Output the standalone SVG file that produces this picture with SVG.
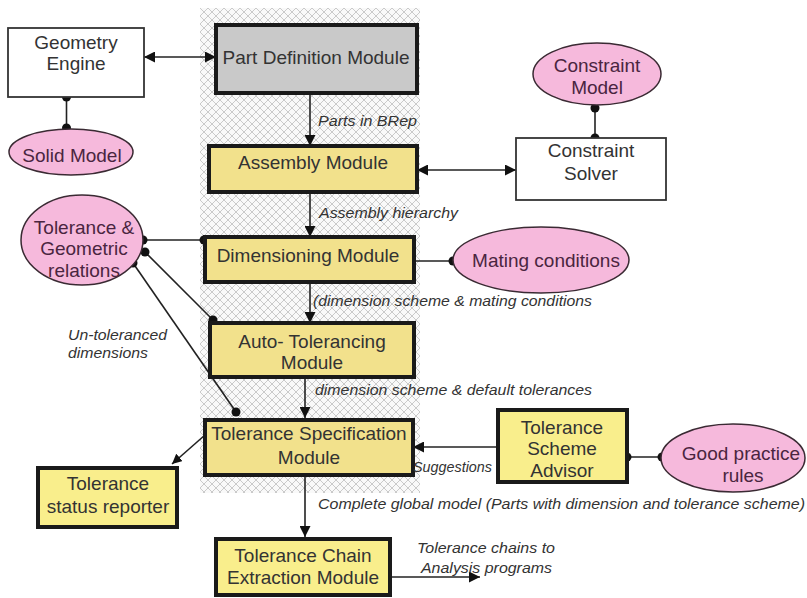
<svg xmlns="http://www.w3.org/2000/svg" width="807" height="598" viewBox="0 0 807 598">
<style>
  .box{stroke:#1a1a1a;stroke-width:4}
  .mod{fill:#f2e18c}
  .ext{fill:#f9ee8c}
  .plain{fill:#fff;stroke:#333;stroke-width:1.8}
  .ell{fill:#f6b9dc;stroke:#3a2a33;stroke-width:1.5}
  .t{font-family:"Liberation Sans",Arial,sans-serif;font-size:19px;fill:#333;text-anchor:middle}
  .te{font-family:"Liberation Sans",Arial,sans-serif;font-size:19px;fill:#4a2540;text-anchor:middle}
  .lbl{font-family:"Liberation Sans",Arial,sans-serif;font-size:14px;font-style:italic;fill:#333}
  .ln{stroke:#222;stroke-width:1.6;fill:none}
  .dot{fill:#111}
</style>
<defs>
  <pattern id="hatch" width="8" height="8" patternUnits="userSpaceOnUse">
    <rect width="8" height="8" fill="#f9f9f9"/>
    <path d="M0,0 L8,8 M8,0 L0,8" stroke="#cacaca" stroke-width="1"/>
  </pattern>
  <marker id="ah" viewBox="0 0 10 10" refX="10" refY="5" markerWidth="11" markerHeight="11" markerUnits="userSpaceOnUse" orient="auto-start-reverse">
    <path d="M0,0 L10,5 L0,10 z" fill="#111"/>
  </marker>
  <marker id="ahs" viewBox="0 0 10 10" refX="10" refY="5" markerWidth="10" markerHeight="10" markerUnits="userSpaceOnUse" orient="auto">
    <path d="M0,0 L10,5 L0,10 z" fill="#111"/>
  </marker>
</defs>
<rect x="0" y="0" width="807" height="598" fill="#fff"/>
<rect id="hatch-area" x="200" y="8" width="220" height="485" fill="url(#hatch)"/>

<g id="connectors">
  <line class="ln" x1="144" y1="57" x2="216" y2="57" marker-start="url(#ah)" marker-end="url(#ah)"/>
  <line class="ln" x1="66.5" y1="97" x2="66.5" y2="128"/>
  <circle class="dot" cx="66.5" cy="97" r="4.5"/>
  <circle class="dot" cx="66.5" cy="128" r="4.5"/>
  <line class="ln" x1="310" y1="93" x2="310" y2="146" marker-end="url(#ah)"/>
  <line class="ln" x1="417" y1="170" x2="516" y2="170" marker-start="url(#ah)" marker-end="url(#ah)"/>
  <line class="ln" x1="595" y1="108" x2="595" y2="138"/>
  <circle class="dot" cx="595" cy="108" r="4.5"/>
  <circle class="dot" cx="595" cy="138" r="4.5"/>
  <line class="ln" x1="310" y1="192" x2="310" y2="237" marker-end="url(#ah)"/>
  <line class="ln" x1="143" y1="240" x2="205" y2="240"/>
  <circle class="dot" cx="143" cy="240" r="4.5"/>
  <circle class="dot" cx="204" cy="240" r="4.5"/>
  <line class="ln" x1="145" y1="252" x2="213" y2="320"/>
  <circle class="dot" cx="145" cy="252" r="4.5"/>
  <circle class="dot" cx="213" cy="320" r="4.5"/>
  <line class="ln" x1="133" y1="263" x2="236" y2="412"/>
  <circle class="dot" cx="133" cy="263" r="4.5"/>
  <circle class="dot" cx="236" cy="412" r="4.5"/>
  <line class="ln" x1="410" y1="261" x2="453" y2="261"/>
  <circle class="dot" cx="410" cy="261" r="4.5"/>
  <circle class="dot" cx="453" cy="261" r="4.5"/>
  <line class="ln" x1="310" y1="282" x2="310" y2="323" marker-end="url(#ah)"/>
  <line class="ln" x1="305" y1="377" x2="305" y2="418" marker-end="url(#ah)"/>
  <line class="ln" x1="205" y1="435" x2="172" y2="464" stroke-width="1.2" marker-end="url(#ahs)"/>
  <line class="ln" x1="498" y1="447" x2="413" y2="447" marker-end="url(#ah)"/>
  <line class="ln" x1="627" y1="457" x2="662" y2="457"/>
  <circle class="dot" cx="627" cy="457" r="4.5"/>
  <circle class="dot" cx="662" cy="457" r="4.5"/>
  <line class="ln" x1="305" y1="475" x2="305" y2="537" marker-end="url(#ah)"/>
  <line class="ln" x1="390" y1="577" x2="480" y2="577" marker-end="url(#ah)"/>
</g>

<g id="geometry-engine">
  <rect class="plain" x="8" y="28" width="136" height="69"/>
  <text class="t" x="76" y="49">Geometry</text>
  <text class="t" x="76" y="70">Engine</text>
</g>
<g id="solid-model">
  <ellipse class="ell" cx="71" cy="152" rx="62" ry="23"/>
  <text class="te" x="72" y="162">Solid Model</text>
</g>
<g id="part-definition">
  <rect class="box" x="216" y="25" width="201" height="68" fill="#c9c9c9"/>
  <text class="t" x="316" y="64" fill="#444">Part Definition Module</text>
</g>
<g id="assembly">
  <rect class="box mod" x="209" y="146" width="208" height="46"/>
  <text class="t" x="313" y="169">Assembly Module</text>
</g>
<g id="constraint-model">
  <ellipse class="ell" cx="597" cy="74" rx="64" ry="31"/>
  <text class="te" x="597" y="72">Constraint</text>
  <text class="te" x="597" y="94">Model</text>
</g>
<g id="constraint-solver">
  <rect class="plain" x="516" y="138" width="150" height="62"/>
  <text class="t" x="591" y="157">Constraint</text>
  <text class="t" x="591" y="180">Solver</text>
</g>
<g id="tolerance-geometric">
  <ellipse class="ell" cx="82" cy="240" rx="61" ry="45"/>
  <text class="te" x="84" y="234">Tolerance &amp;</text>
  <text class="te" x="84" y="255">Geometric</text>
  <text class="te" x="84" y="277">relations</text>
</g>
<g id="dimensioning">
  <rect class="box mod" x="205" y="237" width="209" height="45"/>
  <text class="t" x="308" y="262">Dimensioning Module</text>
</g>
<g id="mating-conditions">
  <ellipse class="ell" cx="541" cy="260" rx="88" ry="33"/>
  <text class="te" x="546" y="267">Mating conditions</text>
</g>
<g id="auto-tolerancing">
  <rect class="box mod" x="210" y="323" width="204" height="54"/>
  <text class="t" x="312" y="348">Auto- Tolerancing</text>
  <text class="t" x="312" y="369">Module</text>
</g>
<g id="tolerance-specification">
  <rect class="box mod" x="205" y="420" width="208" height="55"/>
  <text class="t" x="309" y="440">Tolerance Specification</text>
  <text class="t" x="309" y="464">Module</text>
</g>
<g id="tolerance-status-reporter">
  <rect class="box ext" x="38" y="468" width="139" height="59"/>
  <text class="t" x="108" y="490">Tolerance</text>
  <text class="t" x="108" y="513">status reporter</text>
</g>
<g id="tolerance-scheme-advisor">
  <rect class="box ext" x="498" y="410" width="129" height="72"/>
  <text class="t" x="562" y="434">Tolerance</text>
  <text class="t" x="562" y="455">Scheme</text>
  <text class="t" x="562" y="477">Advisor</text>
</g>
<g id="good-practice-rules">
  <ellipse class="ell" cx="733" cy="458" rx="72" ry="34"/>
  <text class="te" x="741" y="460">Good practice</text>
  <text class="te" x="743" y="482">rules</text>
</g>
<g id="tolerance-chain-extraction">
  <rect class="box ext" x="216" y="539" width="174" height="56"/>
  <text class="t" x="303" y="562">Tolerance Chain</text>
  <text class="t" x="303" y="584">Extraction Module</text>
</g>

<g id="labels">
  <text class="lbl" x="318" y="126" textLength="99" lengthAdjust="spacingAndGlyphs">Parts in BRep</text>
  <text class="lbl" x="319" y="218" textLength="139" lengthAdjust="spacingAndGlyphs">Assembly hierarchy</text>
  <text class="lbl" x="313" y="306" textLength="279" lengthAdjust="spacingAndGlyphs">(dimension scheme &amp; mating conditions</text>
  <text class="lbl" x="68" y="340" textLength="99" lengthAdjust="spacingAndGlyphs">Un-toleranced</text>
  <text class="lbl" x="68" y="358" textLength="80" lengthAdjust="spacingAndGlyphs">dimensions</text>
  <text class="lbl" x="315" y="395" textLength="277" lengthAdjust="spacingAndGlyphs">dimension scheme &amp; default tolerances</text>
  <text class="lbl" x="413" y="472" textLength="79" lengthAdjust="spacingAndGlyphs">Suggestions</text>
  <text class="lbl" x="318" y="509" textLength="487" lengthAdjust="spacingAndGlyphs">Complete global model (Parts with dimension and tolerance scheme)</text>
  <text class="lbl" x="417" y="553" textLength="138" lengthAdjust="spacingAndGlyphs">Tolerance chains to</text>
  <text class="lbl" x="421" y="573" textLength="131" lengthAdjust="spacingAndGlyphs">Analysis programs</text>
</g>
</svg>
